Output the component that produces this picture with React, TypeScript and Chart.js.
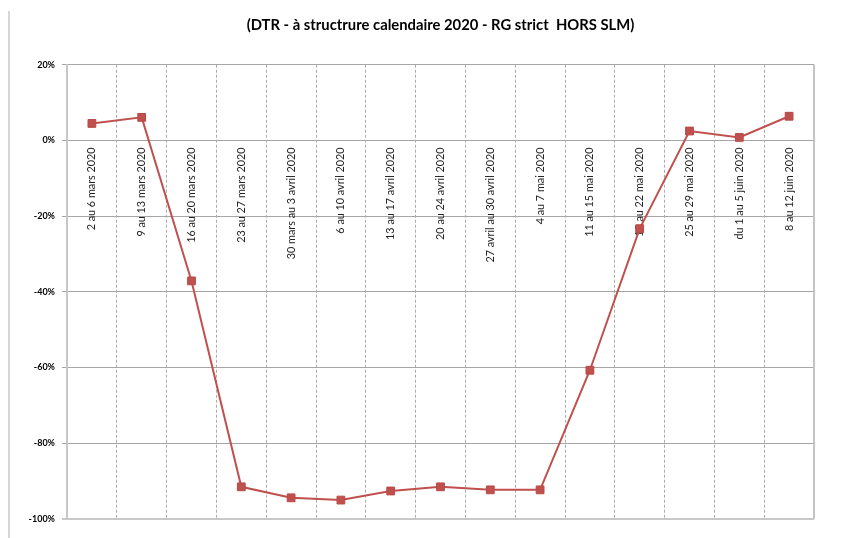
import React, { useEffect, useRef } from "react";
import { Chart, registerables } from "chart.js";

Chart.register(...registerables);

const categories: string[] = [
  "2 au 6 mars 2020",
  "9 au 13 mars 2020",
  "16 au 20 mars 2020",
  "23 au 27 mars 2020",
  "30 mars au 3 avril 2020",
  "6 au 10 avril 2020",
  "13 au 17 avril 2020",
  "20 au 24 avril 2020",
  "27 avril au 30 avril 2020",
  "4 au 7 mai 2020",
  "11 au 15 mai 2020",
  "18 au 22 mai 2020",
  "25 au 29 mai 2020",
  "du 1 au 5 juin 2020",
  "8 au 12 juin 2020",
];

const values: number[] = [
  4.5, 6.1, -37.1, -91.5, -94.4, -95.0, -92.6, -91.5, -92.3, -92.3, -60.7, -23.3, 2.5, 0.8, 6.4,
];

const titleText = "(DTR - à structrure calendaire 2020 - RG strict  HORS SLM)";
const yMin = -100;
const yMax = 20;
const yStep = 20;

const frameBorder = {
  id: "frameBorder",
  afterDraw(chart: any) {
    const { ctx, chartArea } = chart;
    ctx.save();
    ctx.strokeStyle = "#c4c4c4";
    ctx.lineWidth = 2;
    ctx.beginPath();
    ctx.moveTo(chartArea.right, chartArea.top);
    ctx.lineTo(chartArea.right, chartArea.bottom);
    ctx.stroke();
    ctx.restore();
  },
};

export default function App() {
  const ref = useRef<HTMLCanvasElement | null>(null);

  useEffect(() => {
    if (!ref.current) return;
    const chart = new Chart(ref.current, {
      type: "line",
      data: {
        labels: categories,
        datasets: [
          {
            data: values,
            borderColor: "#C0504D",
            backgroundColor: "#C0504D",
            borderWidth: 2,
            pointStyle: "rect",
            pointRadius: 5.5,
            pointBorderWidth: 1,
            pointBackgroundColor: "#C0504D",
            pointBorderColor: "#B84A47",
            tension: 0,
          },
        ],
      },
      options: {
        animation: false,
        responsive: true,
        maintainAspectRatio: false,
        layout: { padding: { left: 0, right: 49, top: 0, bottom: 19 } },
        plugins: {
          legend: { display: false },
          tooltip: { enabled: false },
          title: {
            display: true,
            text: titleText,
            fullSize: false,
            color: "#000",
            font: { family: "Lato", size: 14.8, weight: "bold" },
            padding: { top: 16, bottom: 31 },
          },
        },
        scales: {
          x: {
            type: "category",
            position: { y: 0 } as any,
            offset: true,
            afterFit: (scale: any) => {
              scale.height = 0;
            },
            grid: {
              offset: true,
              color: "#ababab",
              lineWidth: 1,
              drawTicks: false,
            },
            border: { display: true, color: "#a6a6a6", width: 1, dash: [3, 2] },
            ticks: {
              autoSkip: false,
              maxRotation: 90,
              minRotation: 90,
              padding: 7,
              color: "#222",
              font: { family: "Lato", size: 10.8 },
            },
          },
          y: {
            min: yMin,
            max: yMax,
            afterFit: (scale: any) => {
              scale.width = 67;
            },
            grid: {
              color: (c: any) => (c.tick && c.tick.value === yMin ? "#c8c8c8" : "#a6a6a6"),
              lineWidth: (c: any) => (c.tick && c.tick.value === yMin ? 2 : 1),
              tickLength: 5,
            },
            border: { display: true, color: "#c8c8c8", width: 2 },
            ticks: {
              stepSize: yStep,
              padding: 7,
              color: "#000",
              font: { family: "Lato", size: 9, weight: "bold" },
              callback: (v: any) => `${v}%`,
            },
          },
        },
      },
      plugins: [frameBorder],
    });
    return () => chart.destroy();
  }, []);

  return (
    <div
      style={{
        position: "fixed",
        left: 0,
        top: 0,
        width: 863,
        height: 538,
        background: "#fff",
      }}
    >
      <div
        style={{
          position: "absolute",
          left: 8,
          top: 11,
          bottom: 0,
          width: 0,
          borderLeft: "2px solid #d6d6d6",
        }}
      />
      <canvas ref={ref} />
    </div>
  );
}
